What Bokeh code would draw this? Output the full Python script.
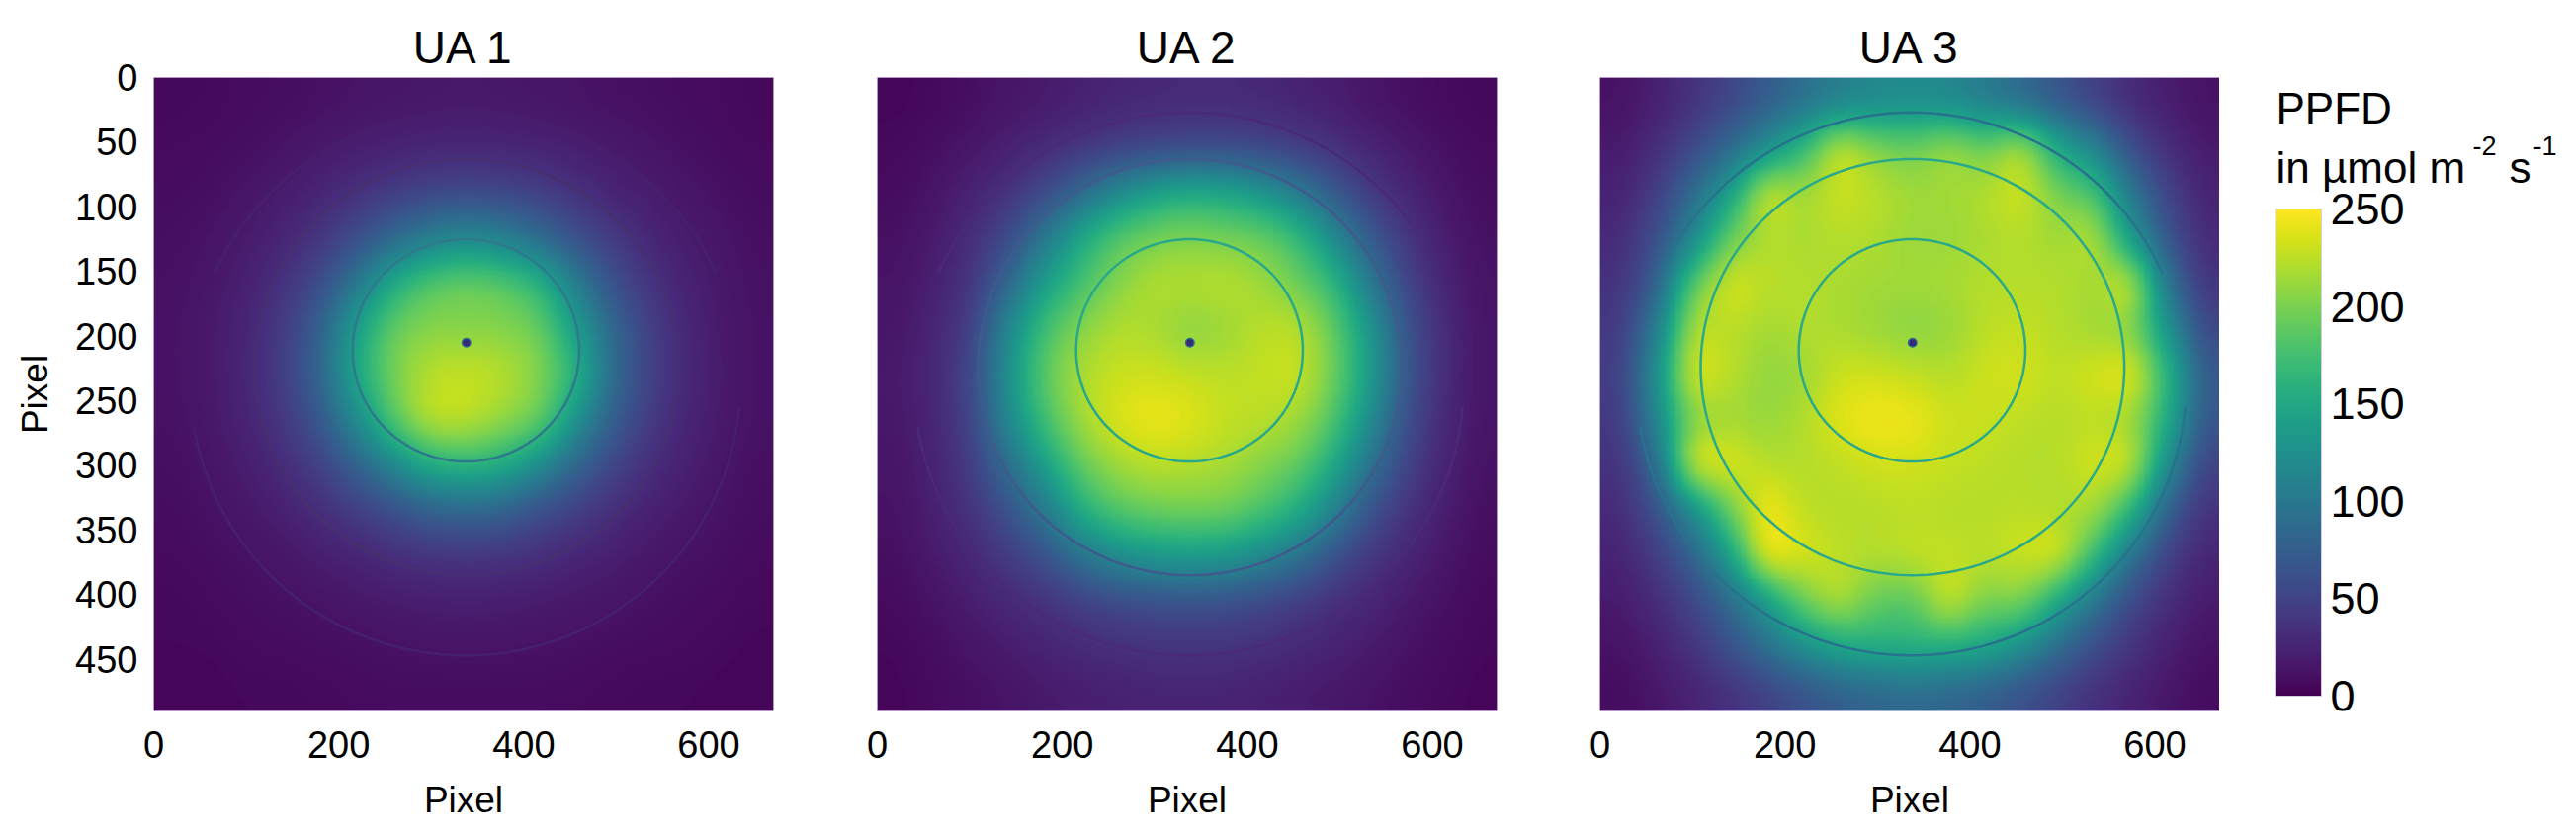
from bokeh.core.properties import value
from bokeh.embed import file_html
from bokeh.layouts import row
from bokeh.models import FixedTicker, LinearColorMapper
from bokeh.palettes import Viridis256
from bokeh.plotting import figure
from bokeh.resources import INLINE

import numpy as np

FONT = "Liberation Sans"

x_ticks = [0, 200, 400, 600]
y_ticks = [0, 50, 100, 150, 200, 250, 300, 350, 400, 450]
bar_ticks = [0, 50, 100, 150, 200, 250]
x_max = 670
y_max = 490

# PPFD, one row per 35 pixel from the top, 17 columns
ua1 = [
    [5, 6, 8, 9, 11, 13, 15, 16, 17, 16, 15, 13, 11, 10, 8, 7, 5],
    [7, 8, 10, 13, 17, 20, 24, 26, 27, 26, 24, 21, 17, 14, 11, 8, 7],
    [8, 10, 14, 19, 25, 35, 44, 52, 56, 53, 47, 36, 25, 20, 15, 11, 8],
    [10, 13, 18, 26, 39, 59, 85, 108, 120, 110, 88, 62, 44, 27, 19, 14, 10],
    [11, 15, 23, 36, 58, 100, 155, 185, 195, 188, 165, 108, 63, 39, 24, 16, 11],
    [12, 17, 26, 44, 78, 142, 193, 206, 205, 205, 195, 142, 85, 48, 28, 17, 12],
    [12, 17, 27, 46, 82, 150, 200, 225, 230, 225, 205, 165, 90, 50, 29, 18, 12],
    [11, 16, 25, 40, 68, 120, 185, 228, 228, 212, 195, 130, 76, 44, 26, 17, 12],
    [10, 14, 20, 31, 48, 78, 115, 155, 165, 155, 122, 82, 52, 33, 22, 15, 10],
    [8, 12, 16, 22, 32, 45, 59, 76, 82, 78, 60, 47, 33, 23, 17, 12, 9],
    [7, 9, 12, 15, 20, 25, 32, 37, 39, 37, 33, 26, 21, 16, 12, 10, 7],
    [5, 7, 9, 11, 13, 16, 18, 20, 21, 20, 18, 16, 14, 11, 9, 7, 6],
    [5, 5, 7, 8, 9, 10, 12, 13, 13, 13, 12, 11, 9, 8, 7, 6, 4],
    [3, 4, 5, 5, 6, 7, 8, 8, 8, 8, 8, 7, 6, 5, 5, 4, 3],
]
ua2 = [
    [4, 6, 10, 14, 18, 22, 26, 28, 30, 30, 28, 24, 20, 14, 10, 7, 5],
    [6, 10, 15, 22, 30, 38, 46, 52, 56, 56, 52, 44, 34, 25, 17, 11, 7],
    [8, 14, 24, 36, 55, 85, 120, 145, 155, 150, 135, 105, 70, 42, 26, 15, 9],
    [11, 18, 32, 55, 100, 150, 185, 200, 205, 200, 195, 170, 120, 70, 38, 20, 11],
    [13, 22, 38, 82, 140, 175, 205, 222, 222, 225, 215, 195, 165, 100, 50, 25, 13],
    [15, 26, 46, 115, 175, 205, 222, 218, 205, 212, 225, 225, 190, 130, 62, 30, 14],
    [17, 28, 52, 125, 188, 220, 230, 232, 228, 225, 228, 232, 195, 135, 65, 30, 14],
    [16, 26, 50, 115, 175, 215, 238, 245, 240, 228, 225, 215, 180, 120, 58, 28, 14],
    [14, 24, 44, 88, 140, 190, 215, 225, 222, 218, 205, 190, 150, 92, 48, 24, 12],
    [12, 22, 36, 62, 100, 155, 185, 195, 198, 196, 180, 155, 110, 62, 36, 20, 10],
    [10, 18, 28, 42, 62, 95, 122, 135, 140, 135, 118, 95, 62, 40, 26, 15, 8],
    [7, 13, 20, 28, 36, 46, 55, 60, 62, 60, 54, 44, 34, 26, 17, 11, 6],
    [5, 9, 14, 19, 25, 30, 34, 37, 38, 37, 34, 29, 24, 18, 12, 8, 5],
    [4, 7, 10, 13, 17, 20, 22, 24, 25, 24, 22, 19, 16, 12, 9, 6, 4],
]
ua3 = [
    [12, 22, 36, 52, 72, 92, 108, 118, 122, 118, 105, 88, 68, 48, 30, 20, 12],
    [18, 32, 55, 85, 122, 165, 235, 205, 195, 215, 195, 225, 150, 112, 60, 32, 18],
    [24, 45, 88, 140, 235, 215, 232, 225, 215, 215, 222, 235, 200, 180, 100, 50, 25],
    [30, 60, 115, 195, 222, 218, 222, 220, 212, 212, 218, 222, 215, 225, 135, 65, 30],
    [36, 75, 190, 238, 225, 222, 218, 215, 215, 218, 222, 222, 222, 215, 235, 95, 38],
    [42, 105, 225, 225, 215, 222, 218, 212, 205, 210, 225, 228, 222, 215, 205, 130, 55],
    [45, 125, 240, 225, 208, 212, 232, 232, 228, 222, 232, 235, 225, 235, 245, 165, 72],
    [42, 115, 205, 215, 210, 220, 240, 248, 245, 232, 230, 225, 222, 225, 215, 155, 68],
    [36, 85, 240, 240, 222, 222, 225, 232, 232, 228, 225, 222, 222, 235, 235, 120, 50],
    [30, 62, 120, 195, 250, 225, 222, 222, 225, 222, 222, 225, 220, 218, 165, 75, 36],
    [24, 44, 78, 140, 250, 238, 225, 222, 228, 228, 225, 232, 240, 170, 95, 48, 26],
    [18, 32, 52, 85, 135, 195, 225, 190, 185, 235, 200, 205, 150, 95, 55, 32, 18],
    [12, 22, 38, 62, 92, 125, 150, 158, 160, 158, 150, 125, 88, 60, 38, 22, 12],
    [8, 15, 24, 35, 48, 62, 75, 82, 88, 82, 75, 62, 48, 34, 24, 15, 8],
]

# Rings: centre x, centre y, half width, half height
ring_cx = [337.5, 338, 337]
ring_cy = [211, 224, 237]
ring_a = [122.5, 229, 297]
ring_b = [86, 161, 210]
# the outer ring is open at both sides, angles in degrees
ring_spans = [[(0, 360)], [(0, 360)], [(-156, -24), (5, 171)]]
ring_colors = {
    "UA 1": ["#2e7a8c", "#46306f", "#46206f"],
    "UA 2": ["#27a88c", "#3f5a8c", "#4a2a78"],
    "UA 3": ["#2aa98a", "#2aa98a", "#27728c"],
}
spot_x = 338
spot_y = 205

legend_lines = ["PPFD", "in µmol m", "-2", "s", "-1"]
legend_x = [0, 0, 199, 236, 260]
legend_y = [109, 169, 147, 169, 147]
legend_size = ["44px", "44px", "27px", "44px", "27px"]

mapper = LinearColorMapper(palette=Viridis256, low=0, high=250)
bar_values = np.linspace(0, 250, 256).reshape(-1, 1)

TOP = 78
BOTTOM = 120
HEIGHT = TOP + 641 + BOTTOM
CELL = 16


# Only for drawing: bokeh paints image cells with hard edges, the original is
# a smooth photo. The values themselves stay the read-off grids above.
def soften(rows):
    big = np.kron(np.array(rows, dtype=float), np.ones((CELL, CELL)))
    box = np.ones(CELL) / CELL
    for axis in (0, 1):
        for _ in range(2):
            pad = [(0, 0), (0, 0)]
            pad[axis] = (CELL, CELL)
            big = np.apply_along_axis(lambda v: np.convolve(v, box, mode="same"), axis,
                                      np.pad(big, pad, mode="edge"))
            big = big[CELL:-CELL, :] if axis == 0 else big[:, CELL:-CELL]
    return big


def make_panel(name, rows, left, right, show_y):
    p = figure(
        width=left + 627 + right, height=HEIGHT,
        frame_width=627, frame_height=641,
        x_range=(0, x_max), y_range=(y_max, 0),
        min_border_left=left, min_border_right=right,
        min_border_top=TOP, min_border_bottom=BOTTOM,
        title=name, toolbar_location=None, output_backend="svg")

    p.image(image=[soften(rows)], x=0, y=0, dw=x_max, dh=y_max, color_mapper=mapper)

    for i in range(3):
        for start, end in ring_spans[i]:
            angles = np.radians(np.arange(start, end + 1, 2))
            p.line(ring_cx[i] + ring_a[i] * np.cos(angles),
                   ring_cy[i] + ring_b[i] * np.sin(angles),
                   line_color=ring_colors[name][i], line_width=2.5)

    p.scatter([spot_x], [spot_y], size=10, color="#2f6a8c", line_color=None)
    p.scatter([spot_x], [spot_y], size=7, color="#352a78", line_color=None)

    p.title.align = "center"
    p.title.text_font = FONT
    p.title.text_font_size = "46px"
    p.title.text_font_style = "normal"
    p.title.text_color = "black"

    p.grid.visible = False
    p.outline_line_color = "#d5cde0"
    p.xaxis.ticker = FixedTicker(ticks=x_ticks)
    p.yaxis.ticker = FixedTicker(ticks=y_ticks)
    for axis in p.xaxis + p.yaxis:
        axis.axis_line_color = None
        axis.major_tick_line_color = None
        axis.minor_tick_line_color = None
        axis.major_label_text_font = FONT
        axis.major_label_text_font_size = "38px"
        axis.major_label_text_color = "black"
        axis.axis_label = "Pixel"
        axis.axis_label_text_font = FONT
        axis.axis_label_text_font_size = "37px"
        axis.axis_label_text_font_style = "normal"
        axis.axis_label_text_color = "black"
    p.xaxis.major_label_standoff = 14
    p.xaxis.axis_label_standoff = 19
    p.yaxis.major_label_standoff = 10
    p.yaxis.axis_label_standoff = 17
    p.yaxis.major_label_orientation = "horizontal"
    p.yaxis.visible = show_y
    return p


def make_bar():
    # the frame also holds the tick labels and legend title, as text outside it gets cut.
    # one x unit is the bar width, and 0-250 covers 493 px
    per_unit = 493 / 250
    p = figure(
        width=353, height=HEIGHT,
        frame_width=296, frame_height=641,
        x_range=(0, 296 / 46), y_range=(-15 / per_unit, 250 + 133 / per_unit),
        x_axis_location=None, y_axis_location=None,
        min_border_left=57, min_border_right=0,
        min_border_top=TOP, min_border_bottom=BOTTOM,
        toolbar_location=None, output_backend="svg")
    p.image(image=[bar_values], x=0, y=0, dw=1, dh=250, color_mapper=mapper)
    p.quad(left=0, right=1, bottom=0, top=250, fill_color=None, line_color="#d5cde0", line_width=1)
    p.grid.visible = False
    p.outline_line_color = None

    p.text(x=[55 / 46] * len(bar_ticks), y=bar_ticks, text=[str(t) for t in bar_ticks],
           text_font=value(FONT), text_font_size="45px", text_color="black",
           text_align="left", text_baseline="middle")

    for i in range(len(legend_lines)):
        p.text(x=[legend_x[i] / 46], y=[(704 - legend_y[i]) / per_unit], text=[legend_lines[i]],
               text_font=value(FONT), text_font_size=legend_size[i], text_color="black",
               text_align="left", text_baseline="alphabetic")
    return p


p1 = make_panel("UA 1", ua1, 155, 53, True)
p2 = make_panel("UA 2", ua2, 52, 52, False)
p3 = make_panel("UA 3", ua3, 52, 0, False)
p4 = make_bar()

p = row(p1, p2, p3, p4, spacing=0)
open("out.html", "w").write(file_html(p, INLINE))
